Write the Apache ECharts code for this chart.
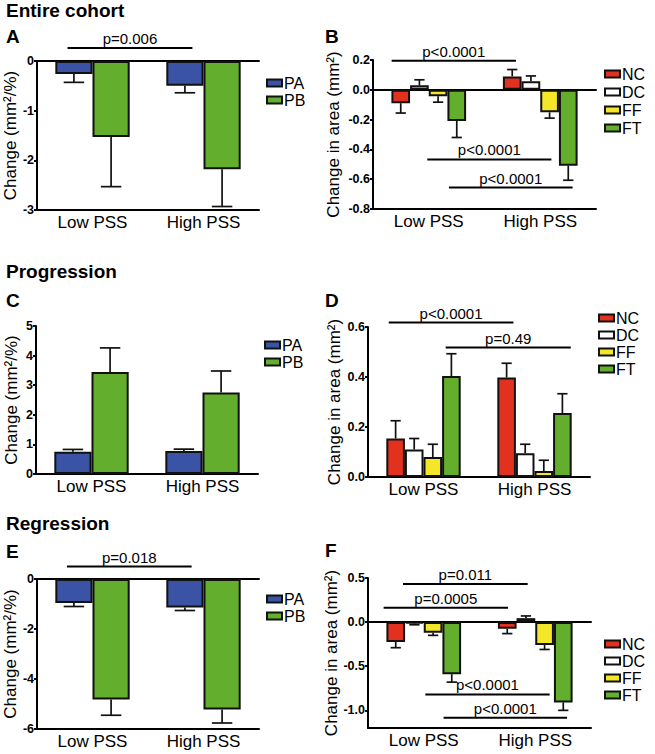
<!DOCTYPE html>
<html>
<head>
<meta charset="utf-8">
<script src="https://cdn.jsdelivr.net/npm/echarts@6/dist/echarts.min.js"></script>
<style>
html,body{margin:0;padding:0;background:#fff;}
#chart{width:655px;height:754px;}
</style>
</head>
<body>
<div id="chart"></div>
<script>
// ---------- data ----------
const categories = ['Low PSS', 'High PSS'];

// Panel A – Entire cohort, change (mm²/%)
const aPA = [-0.26, -0.50];
const aPAsem = [0.17, 0.14];
const aPB = [-1.53, -2.18];
const aPBsem = [1.00, 0.75];

// Panel B – Entire cohort, change in area (mm²)
const bNC = [-0.09, 0.09];
const bNCsem = [0.066, 0.046];
const bDC = [0.03, 0.058];
const bDCsem = [0.037, 0.035];
const bFF = [-0.043, -0.151];
const bFFsem = [0.040, 0.039];
const bFT = [-0.209, -0.509];
const bFTsem = [0.111, 0.098];

// Panel C – Progression, change (mm²/%)
const cPA = [0.75, 0.78];
const cPAsem = [0.08, 0.06];
const cPB = [3.45, 2.75];
const cPBsem = [0.81, 0.73];

// Panel D – Progression, change in area (mm²)
const dNC = [0.154, 0.398];
const dNCsem = [0.071, 0.057];
const dDC = [0.110, 0.095];
const dDCsem = [0.044, 0.036];
const dFF = [0.080, 0.024];
const dFFsem = [0.051, 0.043];
const dFT = [0.404, 0.256];
const dFTsem = [0.089, 0.077];

// Panel E – Regression, change (mm²/%)
const ePA = [-0.96, -1.14];
const ePAsem = [0.14, 0.12];
const ePB = [-4.82, -5.22];
const ePBsem = [0.63, 0.54];

// Panel F – Regression, change in area (mm²)
const fNC = [-0.224, -0.076];
const fNCsem = [0.066, 0.054];
const fDC = [-0.015, 0.045];
const fDCsem = [0.015, 0.025];
const fFF = [-0.12, -0.26];
const fFFsem = [0.03, 0.05];
const fFT = [-0.59, -0.91];
const fFTsem = [0.09, 0.09];

// y tick labels
const yTicksA = [-3, -2, -1, 0];
const yTicksB = [-0.8, -0.6, -0.4, -0.2, 0.0, 0.2];
const yTicksC = [0, 1, 2, 3, 4, 5];
const yTicksD = [0.0, 0.2, 0.4, 0.6];
const yTicksE = [-6, -4, -2, 0];
const yTicksF = [-1.0, -0.5, 0.0, 0.5];

// significance annotations (label, bracket y value)
const aSig = [['p=0.006', 0.26]];
const bSig = [['p<0.0001', 0.195], ['p<0.0001', -0.467], ['p<0.0001', -0.656]];
const dSig = [['p<0.0001', 0.618], ['p=0.49', 0.518]];
const eSig = [['p=0.018', 0.5]];
const fSig = [['p=0.011', 0.432], ['p=0.0005', 0.1625], ['p<0.0001', -0.82], ['p<0.0001', -1.083]];

// ---------- styling / layout ----------
const FONT = "'Liberation Sans', Arial, Helvetica, sans-serif";
const colors = { PA: '#3a53a4', PB: '#63ae2c', NC: '#e2321f', DC: '#ffffff', FF: '#f4e628', FT: '#63ae2c' };
const GROUP = 0.67; // fraction of category band used by bars

const panels = [
  { series: [['PA', aPA, aPAsem], ['PB', aPB, aPBsem]], ticks: yTicksA, dec: 0,
    grid: { left: 37, top: 61, width: 222, height: 149 }, name: 'Change (mm²/%)', nameGap: 16, zero: true,
    legend: { left: 261, top: 70, gap: 1 }, sig: aSig, span: [[-0.225, 0.90]] },
  { series: [['NC', bNC, bNCsem], ['DC', bDC, bDCsem], ['FF', bFF, bFFsem], ['FT', bFT, bFTsem]], ticks: yTicksB, dec: 1,
    grid: { left: 373, top: 60, width: 223, height: 149 }, name: 'Change in area (mm²)', nameGap: 31, zero: true,
    legend: { left: 599, top: 61, gap: 2 }, sig: bSig, span: [[-0.333, 0.782], [-0.013, 1.10], [0.181, 1.29]] },
  { series: [['PA', cPA, cPAsem], ['PB', cPB, cPBsem]], ticks: yTicksC, dec: 0,
    grid: { left: 36, top: 326, width: 222, height: 148 }, name: 'Change (mm²/%)', nameGap: 16, zero: false,
    legend: { left: 259, top: 332, gap: 1 }, sig: [], span: [] },
  { series: [['NC', dNC, dNCsem], ['DC', dDC, dDCsem], ['FF', dFF, dFFsem], ['FT', dFT, dFTsem]], ticks: yTicksD, dec: 1,
    grid: { left: 368, top: 327, width: 222, height: 150 }, name: 'Change in area (mm²)', nameGap: 25, zero: false,
    legend: { left: 593, top: 305, gap: 1 }, sig: dSig, span: [[-0.313, 0.81], [0.20, 1.327]] },
  { series: [['PA', ePA, ePAsem], ['PB', ePB, ePBsem]], ticks: yTicksE, dec: 0,
    grid: { left: 37, top: 579, width: 222, height: 150 }, name: 'Change (mm²/%)', nameGap: 16, zero: true,
    legend: { left: 261, top: 586, gap: 1 }, sig: eSig, span: [[-0.23, 0.893]] },
  { series: [['NC', fNC, fNCsem], ['DC', fDC, fDCsem], ['FF', fFF, fFFsem], ['FT', fFT, fFTsem]], ticks: yTicksF, dec: 1,
    grid: { left: 368, top: 578, width: 223, height: 150 }, name: 'Change in area (mm²)', nameGap: 25, zero: true,
    legend: { left: 599, top: 631, gap: 1 }, sig: fSig, span: [[-0.186, 0.932], [-0.36, 0.756], [0.014, 1.129], [0.178, 1.285]],
    yMin: -1.2 }
];

function errRenderer(k, n) {
  return function (params, api) {
    const cat = api.value(0), v = api.value(1), e = api.value(2);
    const band = api.size([1, 0])[0];
    const gw = band * GROUP, bw = gw / n;
    const p = api.coord([cat, v]);
    const pe = api.coord([cat, e]);
    const cx = p[0] - gw / 2 + bw * (k + 0.5);
    const cap = bw * 0.55;
    return { type: 'group', children: [
      { type: 'line', shape: { x1: cx, y1: p[1], x2: cx, y2: pe[1] }, style: { stroke: '#111', lineWidth: 1.7 } },
      { type: 'line', shape: { x1: cx - cap / 2, y1: pe[1], x2: cx + cap / 2, y2: pe[1] }, style: { stroke: '#111', lineWidth: 1.7 } }
    ] };
  };
}

function sigRenderer(sig, span) {
  return function (params, api) {
    const i = params.dataIndex;
    const c0 = api.coord([0, sig[i][1]]);
    const band = api.size([1, 0])[0];
    const x1 = c0[0] + span[i][0] * band, x2 = c0[0] + span[i][1] * band, y = c0[1];
    return { type: 'group', children: [
      { type: 'line', shape: { x1: x1, y1: y, x2: x2, y2: y }, style: { stroke: '#000', lineWidth: 2 } },
      { type: 'text', style: { text: sig[i][0], x: (x1 + x2) / 2, y: y - 2, align: 'center', verticalAlign: 'bottom',
        fill: '#000', fontSize: 15, fontFamily: FONT } }
    ] };
  };
}

const grids = [], xAxes = [], yAxes = [], series = [], legends = [];
panels.forEach(function (P, gi) {
  grids.push(P.grid);
  const xi = xAxes.length;
  xAxes.push({
    type: 'category', gridIndex: gi, data: categories, position: 'bottom',
    axisLine: { onZero: false, lineStyle: { color: '#000', width: 2 } },
    axisTick: { alignWithLabel: true, length: 5, lineStyle: { color: '#000', width: 2 } },
    axisLabel: { color: '#000', fontSize: 17, margin: 4, fontFamily: FONT }
  });
  if (P.zero) {
    xAxes.push({
      type: 'category', gridIndex: gi, data: categories, position: 'top',
      axisLine: { onZero: true, lineStyle: { color: '#000', width: 2 } },
      axisTick: { show: false }, axisLabel: { show: false }
    });
  }
  const t = P.ticks;
  const y = {
    type: 'value', gridIndex: gi,
    min: P.yMin != null ? P.yMin : t[0], max: t[t.length - 1],
    name: P.name, nameLocation: 'middle', nameRotate: 90, nameGap: P.nameGap,
    nameTextStyle: { color: '#000', fontSize: 17, fontFamily: FONT },
    axisLine: { show: true, lineStyle: { color: '#000', width: 2 } },
    axisTick: { show: true, length: 3, lineStyle: { color: '#000', width: 2 } },
    splitLine: { show: false },
    axisLabel: { color: '#000', fontSize: 12.5, fontWeight: 'bold', margin: 3, fontFamily: FONT,
      formatter: function (v) { return Number(v).toFixed(P.dec); } }
  };
  if (P.yMin != null) {
    y.axisLabel.customValues = t;
    y.axisTick.customValues = t;
  } else {
    y.interval = t[1] - t[0];
  }
  yAxes.push(y);
  const n = P.series.length;
  P.series.forEach(function (s, k) {
    series.push({
      type: 'bar', name: s[0], xAxisIndex: xi, yAxisIndex: gi, data: s[1],
      barGap: '0%', barCategoryGap: '33%',
      itemStyle: { color: colors[s[0]], borderColor: '#111', borderWidth: 2 },
      emphasis: { disabled: true }, z: 2
    });
    series.push({
      type: 'custom', name: 'err' + gi + '_' + k, xAxisIndex: xi, yAxisIndex: gi, silent: true, z: 3,
      data: s[1].map(function (v, j) { return [j, v, v + (v < 0 ? -1 : 1) * s[2][j]]; }),
      renderItem: errRenderer(k, n)
    });
  });
  if (P.sig.length) {
    series.push({
      type: 'custom', name: 'sig' + gi, xAxisIndex: xi, yAxisIndex: gi, silent: true, z: 4,
      data: P.sig.map(function (s) { return [0, s[1]]; }),
      renderItem: sigRenderer(P.sig, P.span)
    });
  }
  legends.push({
    orient: 'vertical', left: P.legend.left, top: P.legend.top, itemGap: P.legend.gap,
    itemWidth: 15, itemHeight: 7, icon: 'rect', selectedMode: false,
    data: P.series.map(function (s) { return s[0]; }),
    textStyle: { color: '#000', fontSize: 16, fontFamily: FONT, padding: [0, 0, 0, -3] }
  });
});

function label(text, x, y, size) {
  return { type: 'text', left: x, top: y, style: { text: text, fontSize: size, fontWeight: 'bold', fill: '#000', fontFamily: FONT } };
}

const option = {
  animation: false,
  textStyle: { fontFamily: FONT },
  grid: grids, xAxis: xAxes, yAxis: yAxes, series: series, legend: legends,
  graphic: [
    label('Entire cohort', 6, 1, 19),
    label('A', 6, 27, 19),
    label('B', 325, 27, 19),
    label('Progression', 6, 262, 19),
    label('C', 6, 291, 19),
    label('D', 325, 291, 19),
    label('Regression', 6, 514, 19),
    label('E', 6, 542, 19),
    label('F', 325, 541, 19)
  ]
};

const chart = echarts.init(document.getElementById('chart'), null, { renderer: 'svg', width: 655, height: 754 });
chart.setOption(option);
</script>
</body>
</html>
